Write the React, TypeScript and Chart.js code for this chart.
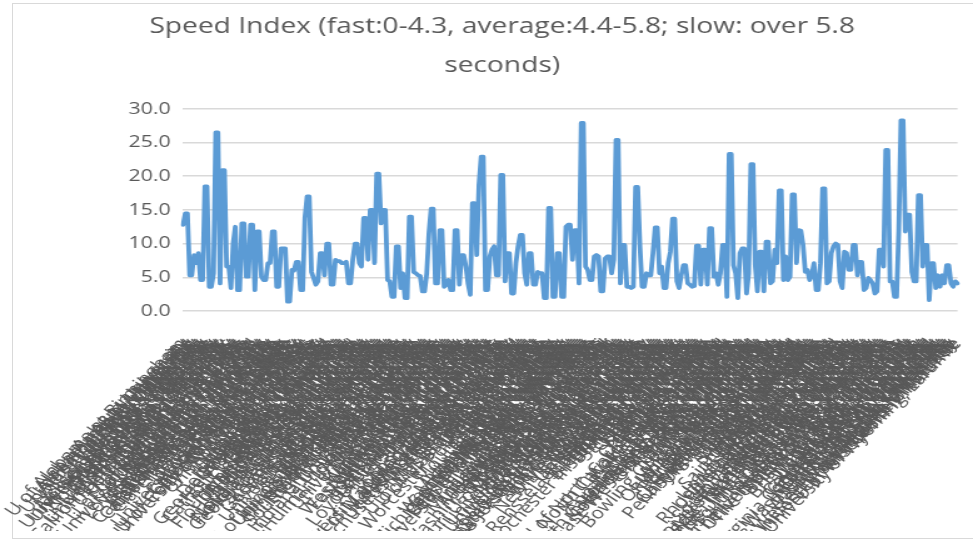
import { useEffect, useRef } from "react";
import { Chart, registerables } from "chart.js";

Chart.register(...registerables);

// ---- data -------------------------------------------------------------
const titleLines = ["Speed Index (fast:0-4.3, average:4.4-5.8; slow: over 5.8", "seconds)"];

const yMin = 0;
const yMax = 30;
const yStep = 5;

const speedIndexPart1 = [
  12.8, 14.5, 14.5, 5.3, 5.3, 8.3, 7.1, 8.6, 4.6, 4.6, 18.5, 18.5, 3.6, 3.6, 5.6, 26.5, 26.5, 4.1, 20.9, 20.9,
  6.6, 6.6, 3.4, 10, 12.5, 3.1, 3.1, 13, 13, 5.1, 5.1, 12.8, 12.8, 3.1, 11.8, 11.8, 5.1, 4.6, 4.6, 7.1,
  7.1, 11.8, 11.8, 3.6, 3.6, 9.3, 9.3, 9.3, 1.4, 1.4, 6.1, 6.0, 7.3, 7.3, 3.1, 3.1, 13.8, 17, 17, 5.8,
  4.9, 3.9, 4.4, 8.6, 8.6, 5.3, 10, 10, 3.9, 3.9, 7.6, 7.4, 7.4, 7.1, 7.1, 7.3, 4.1, 4.1, 7.6, 10,
  10, 7.1, 6.6, 13.8, 13.8, 7.6, 15, 15, 7.1, 20.4, 20.4,
];

const speedIndexPart2 = [
  13, 15, 15, 4.6, 4.4, 2.1, 2.1, 9.6, 9.6, 3.4, 5.6, 1.9, 1.9, 14, 14, 5.8, 5.6, 5.3, 5.2, 2.9,
  2.9, 5.6, 11.5, 15.2, 15.2, 4.1, 4.1, 12, 12, 3.6, 3.9, 4.6, 3.1, 3.1, 12, 12, 3.9, 8.3, 8.3, 6.6,
  4.1, 2.4, 16, 16, 8.3, 18.7, 22.9, 22.9, 3.1, 3.1, 8.1, 9.1, 9.6, 5.3, 5.3, 20.2, 20.2, 4.4, 8.6, 8.6,
  2.6, 2.6, 7.1, 9.6, 11.3, 11.3, 5.6, 3.9, 8.6, 8.6, 3.9, 3.9, 5.8, 5.6, 5.6, 1.9, 1.9, 15.3, 15.3, 2.1,
  2.1, 8.6, 8.6, 2.1, 2.1, 12.5, 12.8, 12.8, 7.6, 12, 12, 4.1, 27.9, 27.9, 6.6, 6.1, 4.6, 4.6, 8.1, 8.3,
  8.1, 2.9, 2.9, 7.8, 8.1, 8.1, 5.6, 7.6, 25.4, 25.4, 4.1, 9.8, 9.8, 3.6, 3.6, 3.4, 3.6, 18.4, 18.4, 9.6,
  3.6, 3.6, 5.6, 5.3, 5.3, 8.6, 12.4, 12.4, 5.6, 6.6, 3.4, 3.4, 7.1, 8.8, 13.7, 13.7,
];

const speedIndexPart3 = [
  4.4, 3.4, 5.3, 6.8, 6.8, 4.1, 3.9, 3.6, 3.7, 9.7, 9.7, 3.9, 9.1, 9.1, 3.9, 12.3, 12.3, 5.1, 5.6, 3.9,
  5.6, 9.8, 9.8, 2.1, 23.3, 23.3, 6.8, 5.6, 1.9, 8.6, 9.3, 9.3, 2.6, 5.6, 21.8, 21.8,
  6.8, 2.9, 8.8, 8.8, 2.9, 10.3, 10.3, 4.1, 4.4, 9.1, 7.1,
  17.9, 17.9, 4.6, 8.1, 4.6, 5.1, 17.3, 17.3, 7.1, 12, 11.9, 9.8, 5.8, 6.1, 4.6, 5.3, 7.1, 3.1, 3.1, 7.1, 18.2, 18.2,
  4.1, 4.4, 8.6, 9.6, 10, 9.8, 4.4, 3.4, 8.8, 8.6, 6.1, 6.1, 9.8, 9.8, 5.3, 7.3, 7.3, 3.1, 3.4, 4.9, 4.6, 4.1, 2.6, 2.9, 9.1, 9.1, 6.6,
  23.9, 23.9, 4.4, 4.4, 2.1, 2.1, 12, 28.3, 28.3,
  11.8, 14.3, 14.3, 5.8, 4.4, 4.4,
  17.2, 17.2,
  6.6, 9.8, 9.8, 1.6, 7.1, 7.1, 3.4, 5.3, 3.6, 5.3, 4.1, 6.8, 6.8, 4.1, 3.6, 4.4, 4.1,
];

const universities = [
  "U of Alabama at Birmingham", "Auburn University", "Alabama A&M University", "U of Alabama in Huntsville",
  "Alabama State University", "University of South Alabama", "Troy University", "Samford University",
  "Tuskegee University", "U of North Alabama", "Jacksonville State University", "University of West Alabama",
  "University of Alaska Anchorage", "University of Alaska Fairbanks",
  "Arizona State University", "University of Arizona", "Northern Arizona University", "Grand Canyon University",
  "University of Arkansas", "Arkansas State University", "U of Arkansas at Little Rock", "University of Central Arkansas",
  "Harding University",
  "California Institute of Technology", "Stanford University", "U of California, Berkeley", "U of California, Los Angeles",
  "U of California, San Diego", "U of California, Davis", "U of California, Irvine", "U of California, Santa Barbara",
  "U of California, Santa Cruz", "U of California, Riverside", "U of California, Merced", "University of Southern California",
  "Pepperdine University", "Santa Clara University", "Loyola Marymount University", "University of San Diego",
  "University of San Francisco", "San Diego State University", "San Jose State University", "Cal Poly San Luis Obispo",
  "California State U, Long Beach", "California State U, Fullerton", "California State U, Northridge", "Chapman University",
  "Claremont McKenna College", "Pomona College", "Harvey Mudd College", "Occidental College",
  "University of the Pacific", "Biola University", "Azusa Pacific University",
  "University of Colorado Boulder", "Colorado State University", "University of Denver", "Colorado School of Mines",
  "U of Colorado Colorado Springs", "University of Northern Colorado", "Colorado College",
  "Yale University", "University of Connecticut", "Wesleyan University", "Trinity College",
  "Fairfield University", "Quinnipiac University", "University of Hartford", "Connecticut College",
  "University of Delaware", "Delaware State University",
  "Georgetown University", "George Washington University", "American University", "Howard University",
  "Catholic University of America", "Gallaudet University",
  "University of Florida", "Florida State University", "University of Miami", "University of Central Florida",
  "University of South Florida", "Florida International University", "Florida Atlantic University", "Florida A&M University",
  "University of North Florida", "Stetson University", "Rollins College", "Nova Southeastern University",
  "Florida Institute of Technology", "Florida Gulf Coast University",
  "Georgia Institute of Technology", "Emory University", "University of Georgia", "Georgia State University",
  "Mercer University", "Kennesaw State University", "Georgia Southern University", "Spelman College",
  "Morehouse College", "Valdosta State University",
  "University of Hawaii at Manoa",
  "University of Idaho", "Boise State University", "Idaho State University",
  "University of Chicago", "Northwestern University", "U of Illinois at Urbana-Champaign", "University of Illinois at Chicago",
  "Loyola University Chicago", "DePaul University", "Illinois Institute of Technology", "Illinois State University",
  "Northern Illinois University", "Southern Illinois U Carbondale", "Bradley University", "Wheaton College",
  "University of Notre Dame", "Purdue University", "Indiana University Bloomington", "Ball State University",
  "Butler University", "Indiana State University", "Valparaiso University", "Rose-Hulman Institute of Technology",
  "University of Iowa", "Iowa State University", "University of Northern Iowa", "Drake University", "Grinnell College",
  "University of Kansas", "Kansas State University", "Wichita State University",
  "University of Kentucky", "University of Louisville", "Western Kentucky University", "Eastern Kentucky University",
  "Murray State University", "Berea College",
  "Louisiana State University", "Tulane University", "Louisiana Tech University", "U of Louisiana at Lafayette",
  "Loyola University New Orleans", "University of New Orleans", "Southern University",
  "University of Maine", "Bowdoin College", "Bates College", "Colby College",
  "Johns Hopkins University", "University of Maryland, College Park", "U of Maryland, Baltimore County", "Towson University",
  "Loyola University Maryland", "Morgan State University", "United States Naval Academy",
  "Harvard University", "Massachusetts Institute of Technology", "Boston University", "Boston College",
  "Northeastern University", "Tufts University", "Brandeis University", "U of Massachusetts Amherst",
  "U of Massachusetts Boston", "Williams College", "Amherst College", "Wellesley College",
  "Worcester Polytechnic Institute", "Clark University", "Smith College", "Mount Holyoke College",
  "Babson College", "Bentley University", "Emerson College", "Suffolk University",
  "University of Michigan", "Michigan State University", "Wayne State University", "Western Michigan University",
  "Central Michigan University", "Michigan Technological University", "Oakland University", "Grand Valley State University",
  "Eastern Michigan University", "Kalamazoo College",
  "University of Minnesota Twin Cities", "Carleton College", "Macalester College", "St. Olaf College",
  "University of St. Thomas", "Minnesota State U, Mankato",
  "University of Mississippi", "Mississippi State University", "U of Southern Mississippi", "Jackson State University",
  "Washington University in St. Louis", "University of Missouri", "Saint Louis University", "U of Missouri-Kansas City",
  "Missouri State University", "Missouri U of Science and Technology", "Truman State University",
  "University of Montana", "Montana State University",
  "University of Nebraska-Lincoln", "Creighton University", "U of Nebraska at Omaha",
  "University of Nevada, Las Vegas", "University of Nevada, Reno",
  "Dartmouth College", "University of New Hampshire",
  "Princeton University", "Rutgers University-New Brunswick", "Stevens Institute of Technology",
  "New Jersey Institute of Technology", "Seton Hall University", "Montclair State University", "Rowan University",
  "The College of New Jersey", "Drew University",
  "University of New Mexico", "New Mexico State University",
  "Columbia University", "Cornell University", "New York University", "University of Rochester",
  "Syracuse University", "Rensselaer Polytechnic Institute", "Fordham University", "Stony Brook University",
  "University at Buffalo", "Binghamton University", "University at Albany", "Rochester Institute of Technology",
  "Hofstra University", "Pace University", "St. John's University", "Vassar College",
  "Colgate University", "Hamilton College", "Skidmore College", "Barnard College",
  "Union College", "Yeshiva University", "Clarkson University", "Ithaca College",
  "Duke University", "U of North Carolina at Chapel Hill", "North Carolina State University", "Wake Forest University",
  "Davidson College", "UNC Charlotte", "UNC Greensboro", "East Carolina University",
  "Appalachian State University", "Elon University", "North Carolina A&T State University",
  "University of North Dakota", "North Dakota State University",
  "Ohio State University", "Case Western Reserve University", "University of Cincinnati", "Miami University",
  "Ohio University", "Kent State University", "University of Dayton", "University of Akron",
  "University of Toledo", "Bowling Green State University", "Oberlin College", "Kenyon College",
  "Xavier University", "Wright State University",
  "University of Oklahoma", "Oklahoma State University", "University of Tulsa",
  "University of Oregon", "Oregon State University", "Portland State University", "Reed College", "University of Portland",
  "University of Pennsylvania", "Carnegie Mellon University", "Pennsylvania State University", "University of Pittsburgh",
  "Temple University", "Drexel University", "Villanova University", "Lehigh University",
  "Bucknell University", "Lafayette College", "Swarthmore College", "Haverford College",
  "Bryn Mawr College", "Duquesne University", "Saint Joseph's University", "Dickinson College", "Gettysburg College",
  "Brown University", "University of Rhode Island", "Providence College", "Rhode Island School of Design",
  "University of South Carolina", "Clemson University", "College of Charleston", "Furman University",
  "University of South Dakota", "South Dakota State University",
  "Vanderbilt University", "University of Tennessee, Knoxville", "University of Memphis", "Middle Tennessee State University",
  "Tennessee State University", "Belmont University", "Sewanee: The University of the South",
  "Rice University", "The University of Texas at Austin", "Texas A&M University", "Southern Methodist University",
  "Baylor University", "Texas Christian University", "Texas Tech University", "University of Houston",
  "The University of Texas at Dallas", "The University of Texas at Arlington", "The U of Texas at San Antonio",
  "The U of Texas at El Paso", "University of North Texas", "Texas State University", "Trinity University",
  "University of Utah", "Brigham Young University", "Utah State University", "Weber State University",
  "University of Vermont", "Middlebury College",
  "University of Virginia", "College of William & Mary", "George Mason University", "Virginia Commonwealth University",
  "James Madison University", "Old Dominion University", "University of Richmond", "Washington and Lee University",
  "Liberty University",
  "University of Washington", "Washington State University", "Gonzaga University", "Seattle University",
  "Western Washington University", "West Virginia University",
  "University of Wisconsin-Madison", "Marquette University", "U of Wisconsin-Milwaukee",
  "University of Wyoming, Laramie",
];

const speedIndex = [...speedIndexPart1, ...speedIndexPart2, ...speedIndexPart3];
const labels = speedIndex.map((_, i) => universities[Math.min(i, universities.length - 1)]);

// ---- layout (the reference is stretched horizontally) -----------------
const STRETCH = 1.25;
const CANVAS_W = 778;
const CANVAS_H = 540;
const VISIBLE_H = 531;

export default function App() {
  const ref = useRef<HTMLCanvasElement>(null);

  useEffect(() => {
    if (!ref.current) return;
    const gray = "#595959";
    const chart = new Chart(ref.current, {
      type: "line",
      data: {
        labels,
        datasets: [
          {
            label: "Speed Index",
            data: speedIndex,
            borderColor: "#5B9BD5",
            backgroundColor: "#5B9BD5",
            borderWidth: 3.8,
            pointRadius: 0,
            tension: 0,
            fill: false,
            borderJoinStyle: "round",
            borderCapStyle: "round",
          },
        ],
      },
      options: {
        responsive: false,
        animation: false,
        devicePixelRatio: 1,
        layout: { padding: { top: 0, left: 25, right: 0, bottom: 0 } },
        plugins: {
          legend: { display: false },
          tooltip: { enabled: false },
          title: {
            display: true,
            text: titleLines,
            color: gray,
            font: { family: "Open Sans", size: 22.5, weight: "normal", lineHeight: 1.73 },
            padding: { top: 7.5, bottom: 23.5 },
          },
        },
        scales: {
          x: {
            grid: { display: false, drawTicks: true, tickLength: 18 },
            border: { display: false },
            ticks: {
              autoSkip: false,
              minRotation: 51.3,
              maxRotation: 51.3,
              padding: 6,
              color: gray,
              font: { family: "Open Sans", size: 16.5 },
            },
            afterFit: (scale: any) => {
              scale.height = 229;
              scale.paddingLeft = 146.4;
              scale.paddingRight = 12.4;
            },
          },
          y: {
            min: yMin,
            max: yMax,
            ticks: {
              stepSize: yStep,
              padding: 10,
              color: gray,
              font: { family: "Open Sans", size: 17 },
              callback: (v: any) => Number(v).toFixed(1),
            },
            grid: { color: "#d9d9d9", lineWidth: 1.5, drawTicks: false },
            border: { display: false },
          },
        },
      },
    } as any);
    return () => chart.destroy();
  }, []);

  return (
    <div
      style={{
        position: "fixed",
        left: 0,
        top: 0,
        width: 973,
        height: 540,
        overflow: "hidden",
        background: "#ffffff",
      }}
    >
      <div
        style={{
          position: "absolute",
          left: 12,
          top: 3,
          width: 975,
          height: 536,
          border: "1px solid #d9d9d9",
          boxSizing: "border-box",
        }}
      />
      <div
        style={{
          position: "absolute",
          left: 0,
          top: 0,
          width: 973,
          height: VISIBLE_H,
          overflow: "hidden",
        }}
      >
        <canvas
          ref={ref}
          width={CANVAS_W}
          height={CANVAS_H}
          style={{
            position: "absolute",
            left: 0,
            top: 0,
            width: `${CANVAS_W * STRETCH}px`,
            height: `${CANVAS_H}px`,
            display: "block",
          }}
        />
      </div>
    </div>
  );
}
